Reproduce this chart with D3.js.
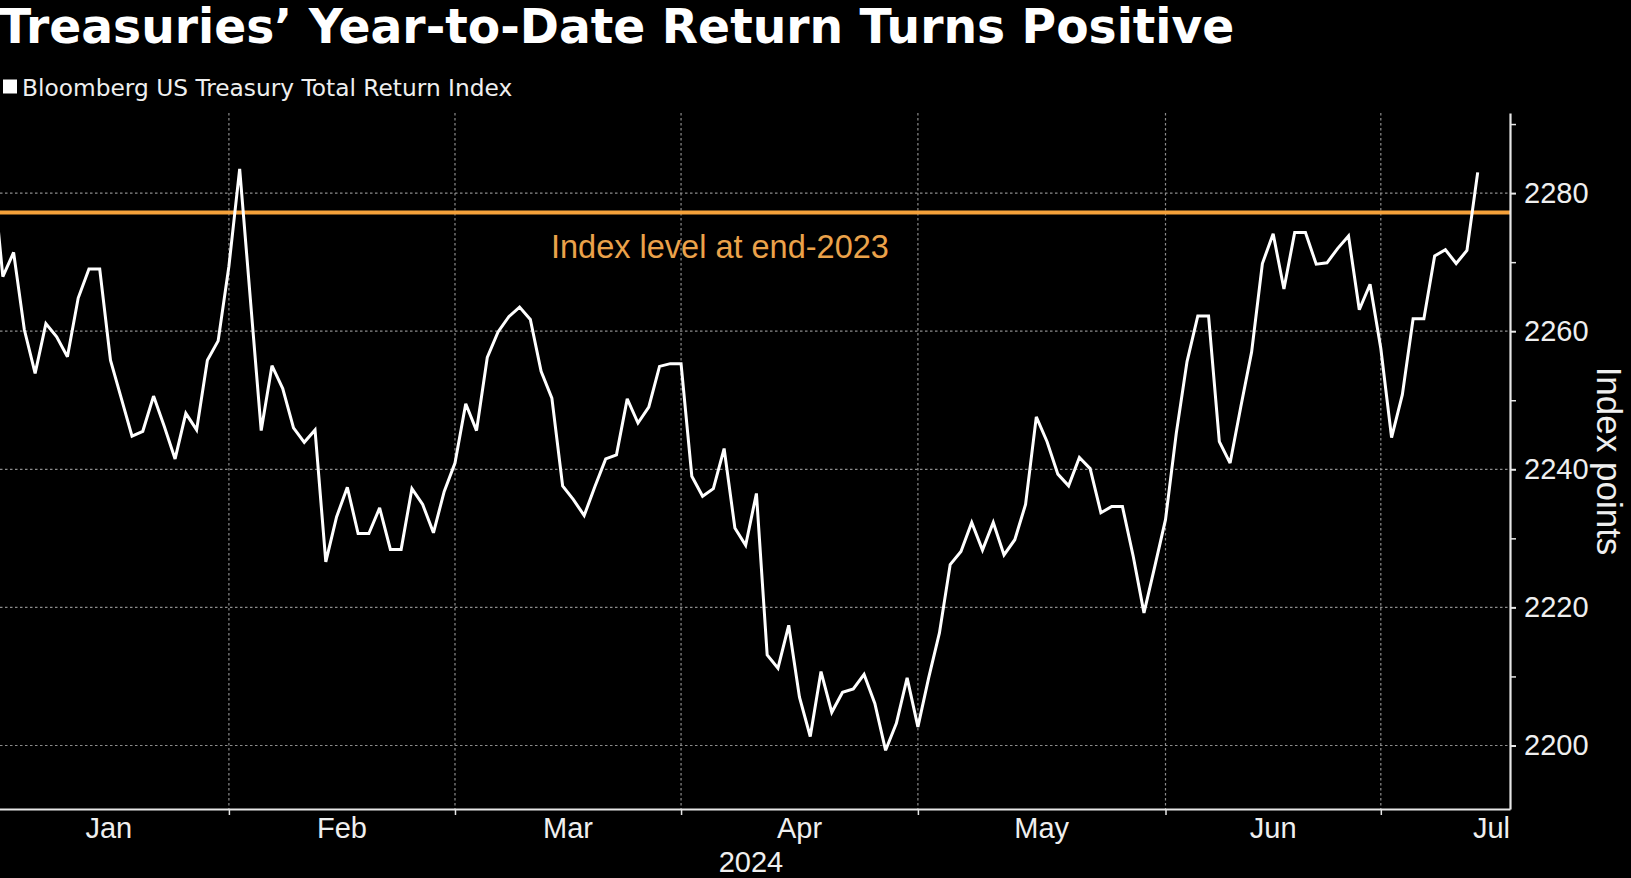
<!DOCTYPE html>
<html>
<head>
<meta charset="utf-8">
<script src="https://cdn.jsdelivr.net/npm/d3@7/dist/d3.min.js"></script>
<style>
  html, body { margin: 0; padding: 0; background: #000; }
  svg { display: block; }
</style>
</head>
<body>
<svg id="chart" width="1631" height="878"></svg>
<script>
// ---------------- data ----------------
const titleText = "Treasuries\u2019 Year-to-Date Return Turns Positive";
const seriesName = "Bloomberg US Treasury Total Return Index";
const refLabel = "Index level at end-2023";
const yAxisTitle = "Index points";
const yearLabel = "2024";

const axisStart = "2024-01-01";
const axisEnd = "2024-07-17";
const firstDate = "2024-01-02";

const monthStarts = ["2024-01-01", "2024-02-01", "2024-03-01", "2024-04-01", "2024-05-01", "2024-06-01", "2024-07-01"];
const monthLabels = ["Jan", "Feb", "Mar", "Apr", "May", "Jun", "Jul"];

const yMajorTicks = [2200, 2220, 2240, 2260, 2280];
const yMinorTicks = [2210, 2230, 2250, 2270, 2290];

const endOf2023Level = 2277.2;

// one value per trading (week) day, starting at firstDate
const indexValues = [
  2284.0, 2267.9, 2271.4, 2260.2, 2253.9, 2261.1, 2259.2, 2256.3, 2264.8, 2269.0,
  2269.0, 2255.8, 2250.3, 2244.8, 2245.5, 2250.6, 2246.2, 2241.5, 2248.1, 2245.7,
  2255.8, 2258.6, 2269.4, 2283.5, 2264.5, 2245.6, 2255.0, 2251.7, 2246.0, 2243.9,
  2245.7, 2226.6, 2233.1, 2237.4, 2230.7, 2230.7, 2234.4, 2228.4, 2228.4, 2237.2,
  2234.9, 2230.8, 2236.8, 2240.9, 2249.5, 2245.6, 2256.2, 2259.9, 2262.1, 2263.5,
  2261.7, 2254.2, 2250.3, 2237.6, 2235.6, 2233.3, 2237.5, 2241.5, 2242.1, 2250.2,
  2246.7, 2249.0, 2254.9, 2255.3, 2255.3, 2239.0, 2236.1, 2237.2, 2243.0, 2231.5,
  2229.0, 2236.5, 2213.1, 2211.2, 2217.4, 2207.0, 2201.3, 2210.7, 2204.8, 2207.7,
  2208.2, 2210.3, 2206.1, 2199.3, 2203.2, 2209.8, 2202.7, 2209.8, 2216.3, 2226.2,
  2228.1, 2232.3, 2228.3, 2232.3, 2227.6, 2229.8, 2234.9, 2247.6, 2244.0, 2239.3,
  2237.6, 2241.7, 2240.1, 2233.7, 2234.6, 2234.6, 2227.4, 2219.2, 2225.9, 2232.7,
  2245.2, 2255.6, 2262.2, 2262.2, 2244.0, 2240.9, 2249.1, 2257.0, 2269.8, 2274.1,
  2266.1, 2274.3, 2274.3, 2269.7, 2269.9, 2272.0, 2273.8, 2263.1, 2266.8, 2257.5,
  2244.6, 2250.8, 2261.8, 2261.8, 2270.9, 2271.8, 2269.8, 2271.7, 2283.0
];

// ---------------- helpers ----------------
const parse = d3.utcParse("%Y-%m-%d");
const t0 = parse(axisStart);
function weekdayIndex(dateStr) {
  const d = parse(dateStr);
  return d3.utcDay.range(t0, d).filter(x => x.getUTCDay() % 6 !== 0).length;
}

// ---------------- layout ----------------
const plotLeft = -18.7, plotRight = 1510, plotTop = 113, plotBottom = 809;

const x = d3.scaleLinear()
  .domain([weekdayIndex(axisStart), weekdayIndex(axisEnd)])
  .range([plotLeft, plotRight]);
const y = d3.scaleLinear()
  .domain([2190.8, 2291.6])
  .range([plotBottom, plotTop]);

const firstIdx = weekdayIndex(firstDate);
const points = indexValues.map((v, i) => ({ i: firstIdx + i, v }));
const monthIdx = monthStarts.map(weekdayIndex);
const endIdx = weekdayIndex(axisEnd);

const svg = d3.select("#chart");
svg.append("rect").attr("width", 1631).attr("height", 878).attr("fill", "#000");

const axisFont = "'Liberation Sans', Arial, sans-serif";
const textColor = "#efefef";

// title
svg.append("text")
  .attr("x", -1).attr("y", 42.5)
  .attr("font-family", "'DejaVu Sans', Verdana, sans-serif")
  .attr("font-weight", "bold")
  .attr("font-size", 47.2)
  .attr("fill", "#fff")
  .text(titleText);

// legend
svg.append("rect")
  .attr("x", 3).attr("y", 79.5).attr("width", 14).attr("height", 14)
  .attr("fill", "#fff");
svg.append("text")
  .attr("x", 22).attr("y", 95.5)
  .attr("font-family", "'DejaVu Sans', Verdana, sans-serif")
  .attr("font-size", 23.3)
  .attr("fill", textColor)
  .text(seriesName);

// horizontal gridlines
svg.append("g")
  .selectAll("line")
  .data(yMajorTicks)
  .join("line")
  .attr("x1", 0).attr("x2", plotRight)
  .attr("y1", d => y(d)).attr("y2", d => y(d))
  .attr("stroke", "#8c8c8c").attr("stroke-width", 1.2)
  .attr("stroke-dasharray", "2.5,2.5");

// vertical gridlines at month starts
svg.append("g")
  .selectAll("line")
  .data(monthIdx.slice(1))
  .join("line")
  .attr("x1", d => x(d)).attr("x2", d => x(d))
  .attr("y1", plotTop).attr("y2", plotBottom)
  .attr("stroke", "#8c8c8c").attr("stroke-width", 1.2)
  .attr("stroke-dasharray", "2.5,2.5");

// end-2023 reference line
svg.append("line")
  .attr("x1", 0).attr("x2", plotRight)
  .attr("y1", y(endOf2023Level)).attr("y2", y(endOf2023Level))
  .attr("stroke", "#f5a13a").attr("stroke-width", 4);
svg.append("text")
  .attr("x", 551).attr("y", 257.5)
  .attr("font-family", axisFont)
  .attr("font-size", 32.5)
  .attr("fill", "#eba24a")
  .text(refLabel);

// series line
const line = d3.line().x(d => x(d.i)).y(d => y(d.v));
svg.append("path")
  .datum(points)
  .attr("d", line)
  .attr("fill", "none")
  .attr("stroke", "#fff")
  .attr("stroke-width", 3)
  .attr("stroke-linejoin", "miter")
  .attr("stroke-miterlimit", 3);

// bottom axis
const xAxis = d3.axisBottom(x)
  .tickValues(monthIdx.slice(1))
  .tickSize(6)
  .tickSizeOuter(0)
  .tickFormat("");
const gx = svg.append("g")
  .attr("transform", `translate(0,${plotBottom})`)
  .call(xAxis);
gx.select(".domain").attr("stroke", "#e6e6e6").attr("stroke-width", 2.2);
gx.selectAll(".tick line").attr("stroke", "#e6e6e6").attr("stroke-width", 1.5);

// month labels
const monthG = svg.append("g")
  .attr("font-family", axisFont).attr("font-size", 29).attr("fill", textColor);
monthLabels.forEach((m, k) => {
  const a = monthIdx[k];
  const b = k + 1 < monthIdx.length ? monthIdx[k + 1] : endIdx;
  const truncated = k + 1 >= monthIdx.length;
  const cx = truncated ? x(endIdx) : (Math.max(0, x(a)) * 0.4 + x(a) * 0.6 + x(b)) / 2;
  monthG.append("text")
    .attr("x", cx)
    .attr("y", 838)
    .attr("text-anchor", truncated ? "end" : "middle")
    .text(m);
});
svg.append("text")
  .attr("x", 751).attr("y", 872)
  .attr("text-anchor", "middle")
  .attr("font-family", axisFont).attr("font-size", 29).attr("fill", textColor)
  .text(yearLabel);

// right axis
const yAxis = d3.axisRight(y)
  .tickValues(yMajorTicks)
  .tickSize(6)
  .tickPadding(8)
  .tickSizeOuter(0)
  .tickFormat(d3.format("d"));
const gy = svg.append("g")
  .attr("transform", `translate(${plotRight},0)`)
  .call(yAxis);
gy.select(".domain").attr("stroke", "#e6e6e6").attr("stroke-width", 2.2);
gy.selectAll(".tick line").attr("stroke", "#e6e6e6").attr("stroke-width", 2);
gy.selectAll(".tick text")
  .attr("font-family", axisFont).attr("font-size", 29).attr("fill", textColor);

const yMinor = d3.axisRight(y)
  .tickValues(yMinorTicks)
  .tickSize(6)
  .tickSizeOuter(0)
  .tickFormat("");
const gym = svg.append("g")
  .attr("transform", `translate(${plotRight},0)`)
  .call(yMinor);
gym.select(".domain").remove();
gym.selectAll(".tick line").attr("stroke", "#e6e6e6").attr("stroke-width", 1.5);

// y axis title (rotated)
svg.append("text")
  .attr("transform", `translate(1597,461) rotate(90)`)
  .attr("text-anchor", "middle")
  .attr("font-family", axisFont).attr("font-size", 35).attr("fill", textColor)
  .text(yAxisTitle);
</script>
</body>
</html>
